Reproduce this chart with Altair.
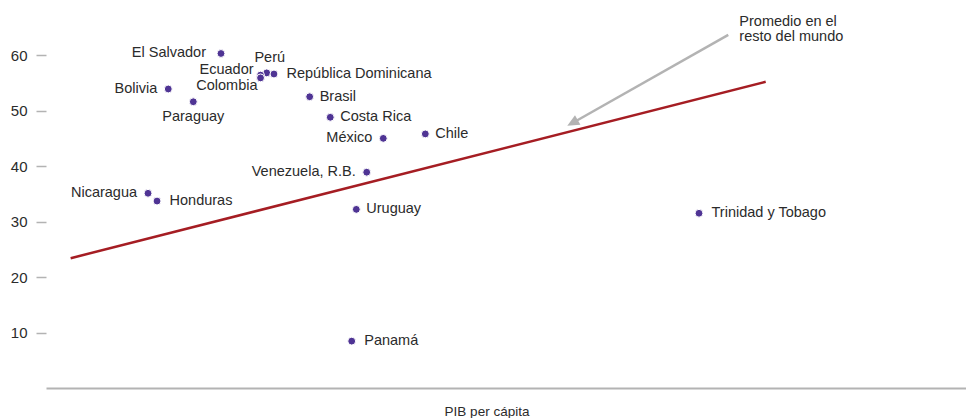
import altair as alt
import pandas as pd

# ---- data (x: GDP per capita index, y: indicator) ----
countries = ["El Salvador", "Perú", "República Dominicana", "Ecuador", "Colombia",
             "Bolivia", "Paraguay", "Brasil", "Costa Rica", "México", "Chile",
             "Venezuela, R.B.", "Nicaragua", "Honduras", "Uruguay", "Panamá",
             "Trinidad y Tobago"]
gdp = [19.02, 23.99, 24.78, 23.32, 23.32, 13.29, 16.01, 28.66, 30.90, 36.66, 41.23,
       34.86, 11.09, 12.07, 33.73, 33.23, 70.98]
value = [60.3, 56.8, 56.6, 56.4, 55.9, 53.9, 51.6, 52.5, 48.8, 45.0, 45.8,
         38.9, 35.1, 33.7, 32.2, 8.45, 31.5]
placement = ["leftfar", "above", "rightfar", "upleft", "downleft",
             "left", "below", "right", "right", "left", "right",
             "left", "left", "rightfar", "right", "rightfar", "rightfar"]

# fitted line for the rest of the world
trend_x = [2.68, 78.23]
trend_y = [23.4, 55.2]

# annotation
note_text = ["Promedio en el\nresto del mundo"]
note_x = [75.36]
note_y = [65.26]
arrow_x = [74.16, 57.42]
arrow_y = [63.64, 47.95]
head_x = [56.66]
head_y = [47.26]

y_ticks = [10, 20, 30, 40, 50, 60]

FONT = "Liberation Sans"
TXT = "#2b2b2b"

pts = pd.DataFrame({"country": countries, "gdp": gdp, "value": value, "placement": placement})
trend = pd.DataFrame({"gdp": trend_x, "value": trend_y})
note = pd.DataFrame({"gdp": note_x, "value": note_y, "text": note_text})
arrow = pd.DataFrame({"gdp": arrow_x, "value": arrow_y})
head = pd.DataFrame({"gdp": head_x, "value": head_y})

xscale = alt.Scale(domain=[0, 100], nice=False, zero=False)
yscale = alt.Scale(domain=[0, 68.5], nice=False)

X = alt.X("gdp:Q", scale=xscale,
          axis=alt.Axis(title="PIB per cápita", labels=False, ticks=False, grid=False,
                        domainColor="#b3b3b3", domainWidth=2,
                        titleFont=FONT, titleFontSize=13.5, titleFontWeight="normal",
                        titleColor=TXT, titleX=440.5, titleY=27.5,
                        titleBaseline="alphabetic"))
Y = alt.Y("value:Q", scale=yscale,
          axis=alt.Axis(title=None, values=y_ticks, domain=False, grid=False,
                        tickSize=10, tickColor="#b3b3b3", tickWidth=1.5,
                        labelPadding=9, labelFont=FONT, labelFontSize=15,
                        labelColor=TXT))

trend_line = alt.Chart(trend).mark_line(color="#a51d23", strokeWidth=2.5).encode(x=X, y=Y)

arrow_line = alt.Chart(arrow).mark_line(color="#b3b3b3", strokeWidth=2.5).encode(
    x="gdp:Q", y="value:Q")
arrow_head = alt.Chart(head).mark_point(
    shape="M0,0L-0.55,1.2L0.55,1.2Z", filled=True, fill="#b3b3b3", opacity=1,
    strokeWidth=0, size=400, angle=240.5).encode(x="gdp:Q", y="value:Q")

points = alt.Chart(pts).mark_circle(color="#4f3494", opacity=1, size=62,
                                    stroke="white", strokeWidth=1).encode(
    x="gdp:Q", y="value:Q")

offsets = {
    "right": (10, 0, "left"),
    "rightfar": (12.5, 0, "left"),
    "left": (-11, 0, "right"),
    "leftfar": (-15, 0, "right"),
    "above": (3, -15, "center"),
    "below": (0, 15, "center"),
    "upleft": (-7, -5, "right"),
    "downleft": (-3, 8, "right"),
}
label_layers = []
for key, (dx, dy, al) in offsets.items():
    label_layers.append(
        alt.Chart(pts).transform_filter(alt.datum.placement == key).mark_text(
            font=FONT, fontSize=14.5, color=TXT, align=al, baseline="middle",
            dx=dx, dy=dy).encode(x="gdp:Q", y="value:Q", text="country:N"))

note_layer = alt.Chart(note).mark_text(
    font=FONT, fontSize=14.5, color=TXT, align="left", baseline="alphabetic",
    lineBreak="\n", lineHeight=15).encode(x="gdp:Q", y="value:Q", text="text:N")

chart = alt.layer(trend_line, arrow_line, arrow_head, points, *label_layers, note_layer).properties(
    width=920, height=380,
    padding={"left": 2, "top": 0, "right": 0, "bottom": 0},
    background="white",
).configure_view(stroke=None)

chart.save("out.html", embed_options={"renderer": "svg", "actions": False})
